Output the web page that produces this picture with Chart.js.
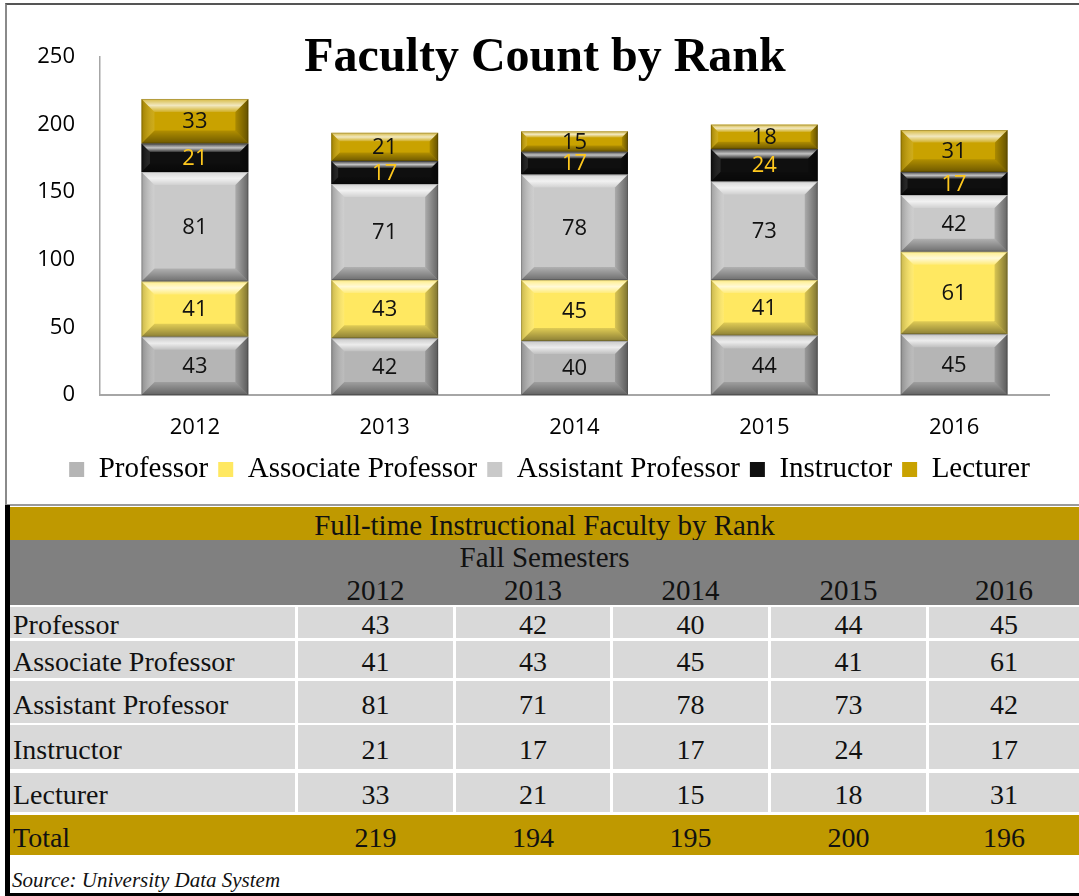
<!DOCTYPE html>
<html>
<head>
<meta charset="utf-8">
<script src="https://cdn.jsdelivr.net/npm/chart.js@4.4.1/dist/chart.umd.min.js"></script>
<style>
  html, body { margin:0; padding:0; background:#fff; }
  body { width:1079px; height:896px; position:relative; overflow:hidden; font-family:"Liberation Serif", serif; }
  #frame { position:absolute; left:5px; top:3px; width:1080px; height:503px; box-sizing:border-box;
           border-top:2px solid #555; border-left:2px solid #8a8a8a; border-bottom:2px solid #9a9a9a; }
  #wrap { position:absolute; left:0; top:0; width:1079px; height:505px; }
  #title { position:absolute; left:0; width:1090px; top:27px; line-height:48px; text-align:center;
           font:bold 48px "Liberation Serif", serif; color:#000; }
  .blk { position:absolute; background:#000; }
  .cell { position:absolute; display:flex; align-items:center; justify-content:center; box-sizing:border-box;
          font-size:28px; color:#111; padding-top:5px; }
  .left { justify-content:flex-start; padding-left:3px; }
  #source { position:absolute; left:12px; top:868px; font:italic 21px "Liberation Serif", serif; color:#111; }
</style>
</head>
<body>
<div id="frame"></div>
<div id="wrap"><canvas id="c" width="1079" height="505"></canvas></div>
<div id="title">Faculty Count by Rank</div>
<div id="table"></div>
<div class="blk" style="left:5px;top:505px;width:5px;height:391px"></div>
<div class="blk" style="left:5px;top:893px;width:1074px;height:3px"></div>
<div id="source">Source: University Data System</div>
<script>
const years = ["2012", "2013", "2014", "2015", "2016"];
const ranks = ["Professor", "Associate Professor", "Assistant Professor", "Instructor", "Lecturer"];
const professor = [43, 42, 40, 44, 45];
const associateProfessor = [41, 43, 45, 41, 61];
const assistantProfessor = [81, 71, 78, 73, 42];
const instructor = [21, 17, 17, 24, 17];
const lecturer = [33, 21, 15, 18, 31];
const yTicks = [0, 50, 100, 150, 200, 250];
const tableTitle = "Full-time Instructional Faculty by Rank";
const tableSubtitle = "Fall Semesters";
const totalLabel = "Total";

const seriesValues = [professor, associateProfessor, assistantProfessor, instructor, lecturer];
const seriesColors = ["#b5b5b5", "#ffe861", "#c9c9c9", "#0f0f0f", "#c9a200"];
const labelColors = ["#111", "#111", "#111", "#ffc81e", "#111"];

const bevelPlugin = {
  id: 'bevel',
  afterLayout(chart) {
    if (chart.legend) { chart.legend.left += 25; chart.legend.right += 25; }
  },
  afterDatasetsDraw(chart) {
    const ctx = chart.ctx;
    chart.data.datasets.forEach((ds, di) => {
      const meta = chart.getDatasetMeta(di);
      meta.data.forEach((el, i) => {
        const p = el.getProps(['x','y','base','width'], true);
        const L = p.x - p.width/2, R = p.x + p.width/2;
        const T = Math.min(p.y, p.base), B = Math.max(p.y, p.base);
        const h = B - T;
        const b = Math.min(13, h*0.3);
        const poly = (pts, fill) => {
          ctx.beginPath(); ctx.moveTo(pts[0][0], pts[0][1]);
          for (let k=1;k<pts.length;k++) ctx.lineTo(pts[k][0], pts[k][1]);
          ctx.closePath(); ctx.fillStyle = fill; ctx.fill();
        };
        ctx.save();
        let g = ctx.createLinearGradient(0, T, 0, T+b);
        g.addColorStop(0, 'rgba(255,255,255,0.25)'); g.addColorStop(0.5, 'rgba(255,255,255,0.75)'); g.addColorStop(1, 'rgba(255,255,255,0.15)');
        poly([[L,T],[R,T],[R-b,T+b],[L+b,T+b]], g);
        g = ctx.createLinearGradient(0, B-b, 0, B);
        g.addColorStop(0, 'rgba(0,0,0,0.12)'); g.addColorStop(1, 'rgba(0,0,0,0.45)');
        poly([[L,B],[R,B],[R-b,B-b],[L+b,B-b]], g);
        g = ctx.createLinearGradient(L, 0, L+b, 0);
        g.addColorStop(0, 'rgba(0,0,0,0.22)'); g.addColorStop(1, 'rgba(255,255,255,0.1)');
        poly([[L,T],[L+b,T+b],[L+b,B-b],[L,B]], g);
        g = ctx.createLinearGradient(R-b, 0, R, 0);
        g.addColorStop(0, 'rgba(0,0,0,0.15)'); g.addColorStop(1, 'rgba(0,0,0,0.5)');
        poly([[R,T],[R-b,T+b],[R-b,B-b],[R,B]], g);
        ctx.strokeStyle = 'rgba(0,0,0,0.18)'; ctx.lineWidth = 1;
        ctx.strokeRect(L+0.5, T+0.5, p.width-1, h-1);
        ctx.fillStyle = labelColors[di];
        ctx.font = '22px "Open Sans", sans-serif';
        ctx.textAlign = 'center'; ctx.textBaseline = 'middle';
        ctx.fillText(String(ds.data[i]), p.x, (T+B)/2 + 1);
        ctx.restore();
      });
    });
  }
};

new Chart(document.getElementById('c'), {
  type: 'bar',
  data: {
    labels: years,
    datasets: ranks.map((r, i) => ({
      label: r, data: seriesValues[i], backgroundColor: seriesColors[i], borderWidth: 0,
      categoryPercentage: 0.8, barPercentage: 0.704
    }))
  },
  options: {
    responsive: false, animation: false,
    layout: { padding: { left: 0, right: 30, top: 57, bottom: 11 } },
    plugins: {
      tooltip: { enabled: false },
      title: { display: false },
      legend: {
        position: 'bottom',
        labels: { boxWidth: 15, boxHeight: 15, padding: 10, color: '#000',
                  font: { family: '"Liberation Serif", serif', size: 29 } }
      }
    },
    scales: {
      x: {
        stacked: true,
        grid: { display: false, drawTicks: false },
        border: { display: true, color: '#a6a6a6', width: 2 },
        ticks: { color: '#000', padding: 20, font: { family: '"Open Sans", sans-serif', size: 22 } },
        afterFit(s) { s.height = 50; }
      },
      y: {
        stacked: true, min: 0, max: 250,
        afterBuildTicks(s) { s.ticks = yTicks.map(v => ({ value: v })); },
        grid: { display: false, drawTicks: false },
        border: { display: true, color: '#a6a6a6', width: 1.5 },
        ticks: { color: '#000', padding: 25, font: { family: '"Open Sans", sans-serif', size: 22 } },
        afterFit(s) { s.width = 100; }
      }
    }
  },
  plugins: [bevelPlugin]
});

const tbl = document.getElementById('table');
function cell(x, y, w, h, text, bg, cls, extra) {
  const d = document.createElement('div');
  d.className = 'cell' + (cls ? ' ' + cls : '');
  d.style.left = x + 'px'; d.style.top = y + 'px'; d.style.width = w + 'px'; d.style.height = h + 'px';
  if (bg) d.style.background = bg;
  if (extra) Object.assign(d.style, extra);
  d.textContent = text;
  tbl.appendChild(d);
}
const gold = '#bf9900', gray = '#808080', light = '#d9d9d9';
cell(10, 507, 1069, 33, tableTitle, gold, '', { fontSize: '29px', paddingTop: '3px' });
cell(10, 540, 1069, 65, '', gray);
cell(10, 540, 1069, 33, tableSubtitle, null, '', { fontSize: '29px', paddingTop: '2px' });
const colX = [298, 456, 613, 771, 929];
const colW = [155, 154, 155, 155, 150];
years.forEach((y, i) => cell(colX[i], 573, colW[i], 32, y, null, '', { fontSize: '29px', paddingTop: '3px' }));
const rowY = [607, 641, 681, 725, 773];
const rowH = [31, 37, 42, 44, 39];
ranks.forEach((r, ri) => {
  cell(10, rowY[ri], 285, rowH[ri], r, light, 'left');
  years.forEach((y, i) => cell(colX[i], rowY[ri], colW[i], rowH[ri], String(seriesValues[ri][i]), light));
});
cell(10, 815, 1069, 40, '', gold);
cell(10, 815, 285, 40, totalLabel, null, 'left');
years.forEach((y, i) => {
  const total = seriesValues.reduce((s, arr) => s + arr[i], 0);
  cell(colX[i], 815, colW[i], 40, String(total), null);
});
</script>
</body>
</html>
